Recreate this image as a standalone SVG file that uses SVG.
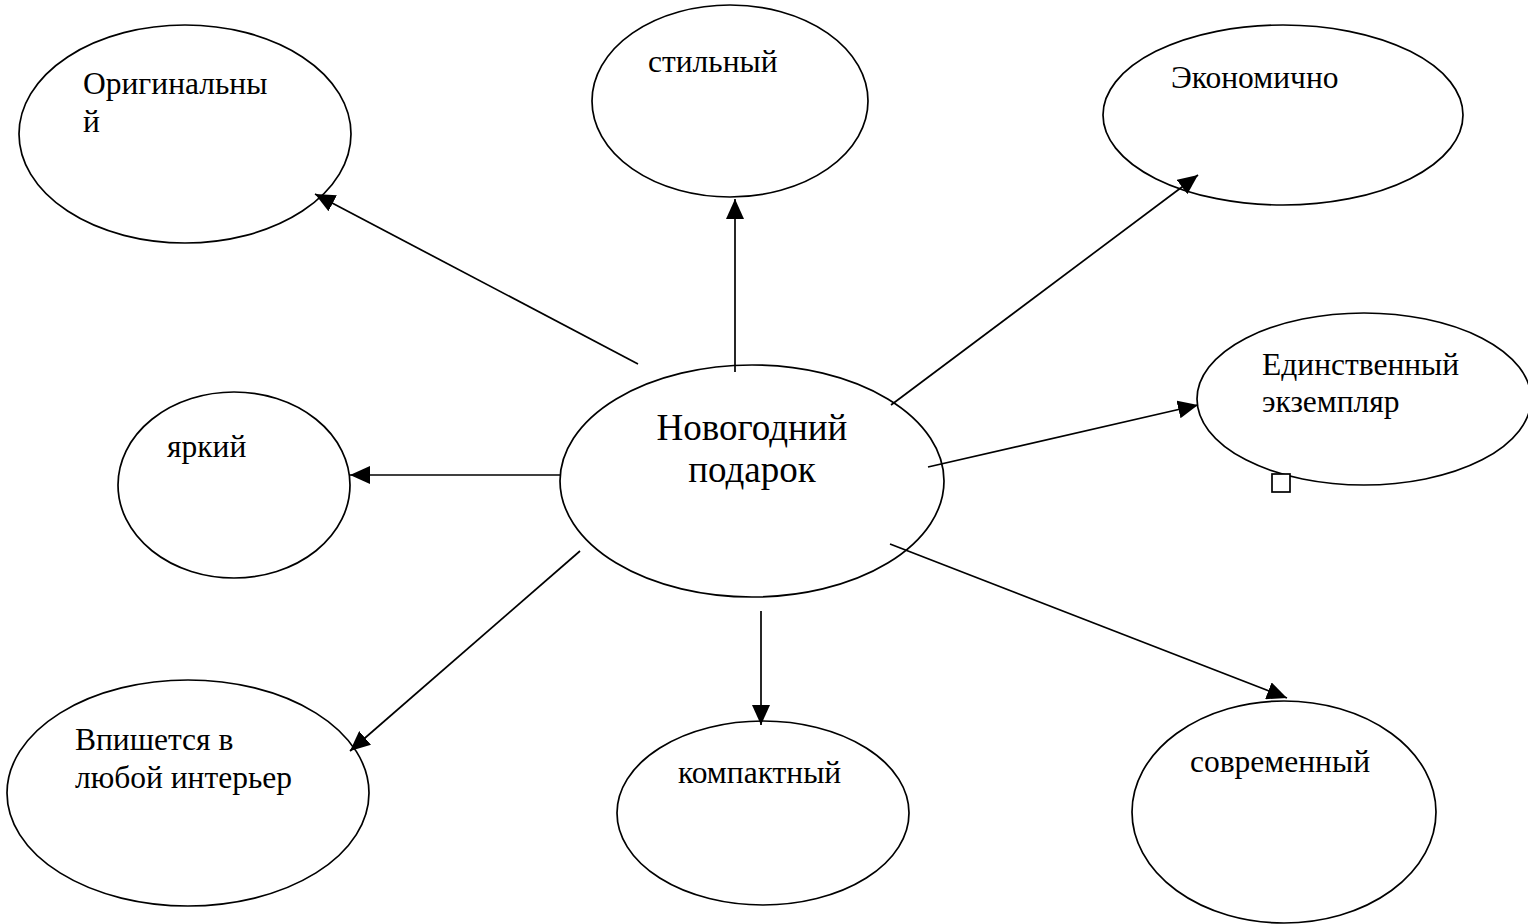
<svg xmlns="http://www.w3.org/2000/svg" width="1528" height="924" viewBox="0 0 1528 924">
<style>
.n ellipse{fill:#fff;stroke:#000;stroke-width:1.7}
text{font-family:"Liberation Serif","Times New Roman",serif;font-size:31.5px;fill:#000}
.big{font-size:37px}
#edges line{stroke:#000;stroke-width:1.7;marker-end:url(#ah)}
</style>
<defs>
<marker id="ah" markerUnits="userSpaceOnUse" markerWidth="22" markerHeight="18" refX="20" refY="9" orient="auto">
<path d="M0,0 L20,9 L0,18 Z" fill="#000"/>
</marker>
</defs>
<rect width="1528" height="924" fill="#fff"/>
<g id="center" class="n">
<ellipse cx="752" cy="481" rx="192" ry="116"/>
<text class="big" x="752" y="440" text-anchor="middle">Новогодний</text>
<text class="big" x="752" y="482" text-anchor="middle">подарок</text>
</g>
<g id="original" class="n">
<ellipse cx="185" cy="134" rx="166" ry="109"/>
<text x="83" y="94">Оригинальны</text>
<text x="83" y="132">й</text>
</g>
<g id="stylish" class="n">
<ellipse cx="730" cy="101" rx="138" ry="96"/>
<text x="648" y="72">стильный</text>
</g>
<g id="economic" class="n">
<ellipse cx="1283" cy="115" rx="180" ry="90"/>
<text x="1171" y="88">Экономично</text>
</g>
<g id="unique" class="n">
<ellipse cx="1364" cy="399" rx="167" ry="86"/>
<text x="1262" y="375">Единственный</text>
<text x="1262" y="412">экземпляр</text>
<rect x="1272" y="474" width="18" height="18" fill="#fff" stroke="#000" stroke-width="1.7"/>
</g>
<g id="bright" class="n">
<ellipse cx="234" cy="485" rx="116" ry="93"/>
<text x="167" y="457">яркий</text>
</g>
<g id="interior" class="n">
<ellipse cx="188" cy="793" rx="181" ry="113"/>
<text x="75" y="750">Впишется в</text>
<text x="75" y="788">любой интерьер</text>
</g>
<g id="compact" class="n">
<ellipse cx="763" cy="813" rx="146" ry="92"/>
<text x="678" y="783">компактный</text>
</g>
<g id="modern" class="n">
<ellipse cx="1284" cy="812" rx="152" ry="111"/>
<text x="1190" y="772">современный</text>
</g>
<g id="edges">
<line x1="638" y1="364" x2="315" y2="194"/>
<line x1="735" y1="372" x2="735" y2="199"/>
<line x1="891" y1="405" x2="1198" y2="175"/>
<line x1="928" y1="467" x2="1198" y2="405"/>
<line x1="560" y1="475" x2="350" y2="475"/>
<line x1="580" y1="551" x2="350" y2="751"/>
<line x1="761" y1="611" x2="761" y2="725"/>
<line x1="890" y1="544" x2="1287" y2="698"/>
</g>
</svg>
